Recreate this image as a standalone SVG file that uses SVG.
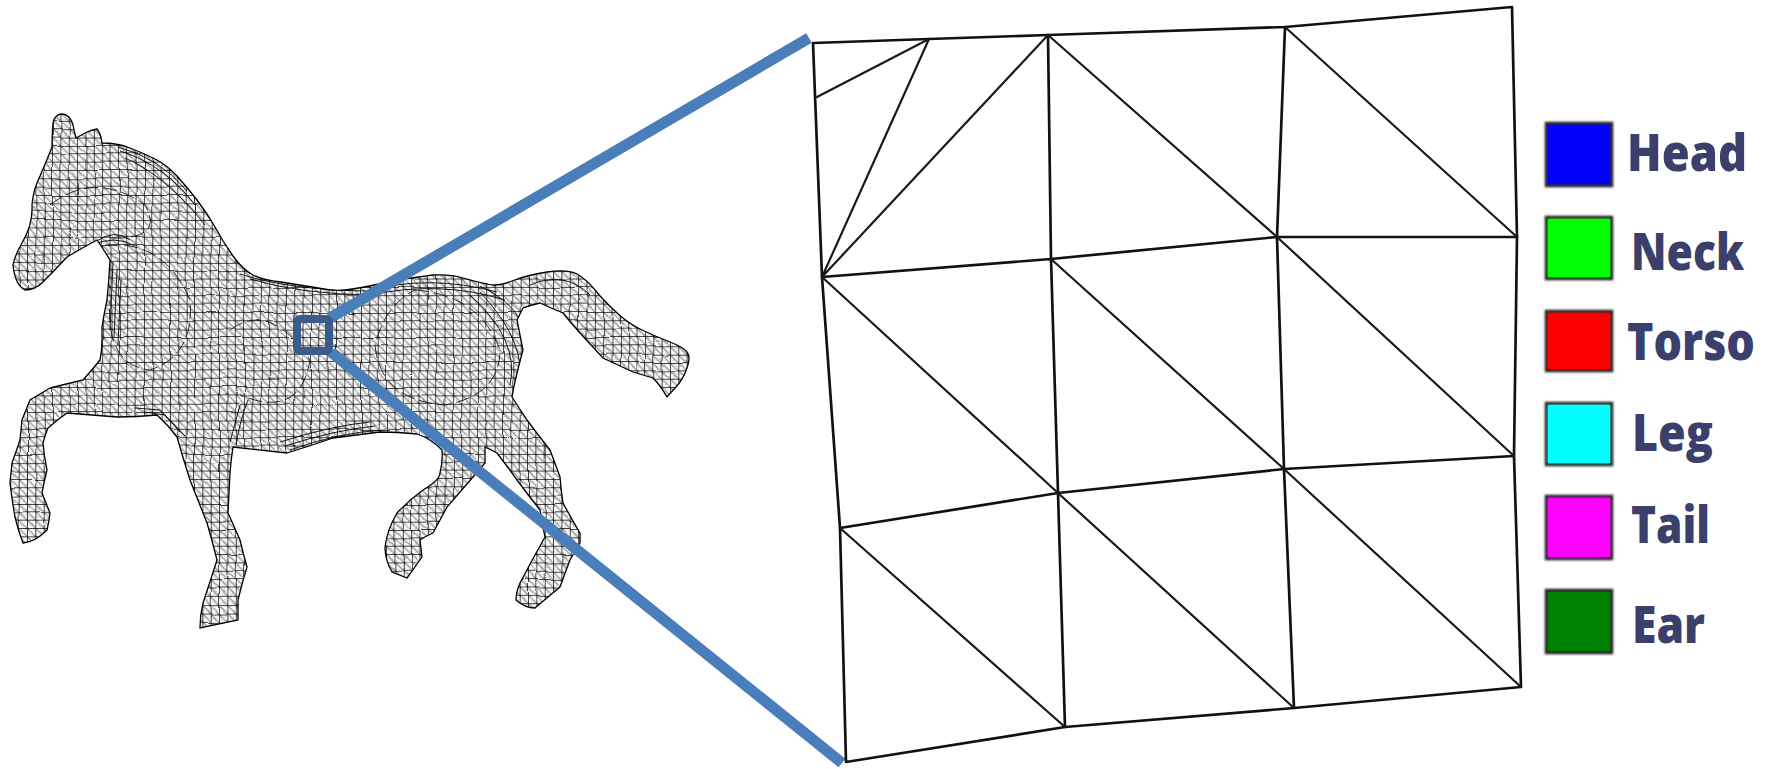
<svg xmlns="http://www.w3.org/2000/svg" width="1767" height="769" viewBox="0 0 1767 769">
<style>
.m{fill:none;stroke:#111;stroke-width:2.7;stroke-linecap:round;stroke-linejoin:round}
.d{fill:none;stroke:#1a1a1a;stroke-width:2.2;stroke-linecap:round}
.f{fill:none;stroke:#000;stroke-width:.9}
.c{fill:none;stroke:#000;stroke-width:.8;stroke-dasharray:14 5}
.b{stroke:#4a7ebb;stroke-width:11;fill:none}
.s{stroke:#222;stroke-width:3.5;filter:url(#blur)}
.t{font-family:"Open Sans","Liberation Sans",sans-serif;font-weight:800;font-size:51px;fill:#3a3f6b}
</style>
<defs>
<pattern id="grid" width="8.35" height="8.35" patternUnits="userSpaceOnUse" x="2" y="3">
<rect width="8.35" height="8.35" fill="#fff"/>
<path d="M0 0L8.35 8.35M-2 6.35L2 10.35M6.35-2L10.35 2" stroke="#aaa" stroke-width="1.5"/>
<path d="M0 0V8.35M0 0H8.35" stroke="#000" stroke-width="1.4"/>
</pattern>
<filter id="warp" x="0" y="0" width="100%" height="100%">
<feTurbulence type="fractalNoise" baseFrequency="0.02" numOctaves="2" seed="4"/>
<feDisplacementMap in="SourceGraphic" scale="5" xChannelSelector="R" yChannelSelector="G"/>
</filter>
<filter id="warp2" x="0" y="0" width="100%" height="100%">
<feTurbulence type="fractalNoise" baseFrequency="0.03" numOctaves="3" seed="11"/>
<feDisplacementMap in="SourceGraphic" scale="30" xChannelSelector="R" yChannelSelector="G"/>
</filter>
<filter id="blur" x="-10%" y="-10%" width="120%" height="120%"><feGaussianBlur stdDeviation=".8"/></filter>
<clipPath id="hc"><path id="ho" d="M62 114Q72 115 74 130L76 138L87 132Q92 130 97 129Q101 134 102 143Q117 143 130 148Q143 153 155 159Q167 165 177 176Q187 187 197 200Q207 213 215 227Q223 242 233 256Q243 270 253 275Q263 280 281 282Q300 285 318 288Q337 292 352 289Q367 287 392 281Q417 277 433 275Q450 274 463 278Q477 282 487 284Q497 287 512 281Q527 275 547 272Q567 269 577 274Q587 280 595 290Q603 300 615 311Q627 323 642 330Q657 337 670 342Q683 347 687 352Q691 357 687 368Q683 380 675 388L667 397Q660 385 653 378Q643 375 633 372Q618 365 603 358Q591 345 580 333Q571 323 563 313Q551 308 540 303Q531 305 523 308Q520 314 517 320Q520 335 523 350Q520 361 517 373Q514 385 512 397Q519 408 527 420Q538 435 550 450Q555 463 560 477Q561 490 563 503Q571 518 580 533Q580 538 580 543Q575 551 570 560Q565 573 560 587Q548 597 535 608Q525 608 516 600Q516 592 520 583Q532 560 545 537Q542 523 540 510Q528 495 517 480Q507 466 497 453Q491 450 485 447L485 463Q479 470 473 477Q460 492 447 507Q440 520 433 533Q426 536 420 540Q421 548 422 557Q415 567 407 578L392 572Q385 560 385 547Q387 530 397 513Q409 500 423 490Q440 480 440 473Q443 460 442 450Q430 438 417 434Q398 432 380 432Q356 435 333 438Q310 446 287 453Q260 450 233 447Q231 460 230 473Q229 493 228 513Q234 526 240 540Q243 553 247 567Q242 583 238 600Q238 610 238 620L200 628Q200 615 203 603Q210 582 217 560Q212 540 207 523Q198 500 190 480Q183 458 177 437Q168 425 157 415Q137 417 117 417Q92 415 67 413Q57 420 48 428Q45 435 43 443Q44 456 47 470Q44 482 42 493Q46 503 50 513Q49 522 47 530Q35 542 23 543Q18 530 15 517Q12 500 10 483Q11 473 12 463Q16 452 20 440Q21 430 22 420Q26 410 30 400Q40 394 50 388Q66 384 83 380Q92 370 100 360Q102 350 102 340Q102 333 102 327Q104 314 107 300Q109 280 110 260Q104 250 97 240Q82 248 67 257Q55 270 43 282Q35 290 25 290Q15 285 13 265Q15 255 22 243Q33 225 32 205Q33 190 40 176Q47 160 52 147Q52 135 53 123Q55 114 62 114Z"/></clipPath>
</defs>
<rect width="1767" height="769" fill="#fff"/>
<g id="horse">
<g clip-path="url(#hc)">
<rect x="0" y="100" width="700" height="540" fill="url(#grid)" filter="url(#warp)"/>
<rect x="0" y="100" width="700" height="540" fill="url(#grid)" filter="url(#warp2)" opacity=".16" style="mix-blend-mode:multiply"/>
<g class="f">
<path d="M118 147Q160 158 187 191M120 151Q165 165 195 205M125 158Q165 175 205 225"/>
<path d="M240 274Q290 290 367 291Q430 274 497 292M250 279Q300 294 370 295Q440 280 505 300M480 286Q510 300 520 320"/>
<path d="M113 262L110 330M117 270L114 338M121 280L118 345"/>
<path d="M95 242Q115 228 130 240M90 246Q115 234 135 246"/>
<path d="M385 430Q340 432 290 450M375 426Q335 430 285 446M370 422Q330 426 280 442"/>
<path d="M145 412L165 415L180 432M135 408L160 410L185 436"/>
<path d="M230 442Q236 420 240 405M236 445Q240 420 248 400"/>
<path d="M470 295Q520 340 510 385M480 292Q530 345 518 390"/>
<path d="M530 285Q565 270 590 295"/>
</g>
<g class="c">
<path d="M415 290Q480 295 500 350Q500 395 445 405Q380 400 375 345Q385 305 415 290Z"/>
<path d="M105 245Q165 240 190 300Q195 355 150 370Q105 365 110 300"/>
<path d="M50 205Q95 170 145 205Q165 240 110 238"/>
<path d="M230 330Q270 300 310 360Q300 420 240 395"/>
</g>
</g>
<use href="#ho" fill="none" stroke="#000" stroke-width="1.3"/>
</g>
<g id="connectors">
<path class="b" d="M330 318L809 38M331 352L842 763"/>
</g>
<g id="zoom-box"><rect x="297" y="319" width="32" height="32" rx="3" fill="none" stroke="#385d8a" stroke-width="8"/></g>
<g id="mesh">
<path class="m" d="M813 43L929 39L1048 35L1285 27L1512 7L1517 237L1514 456L1521 687L1294 708L1065 727L846 762L840 528L822 277L813 43Z"/>
<path class="m" d="M822 277L1051 259L1277 237L1517 237M840 528L1058 493L1284 469L1514 456M1048 35L1051 259L1058 493L1065 727M1285 27L1277 237L1284 469L1294 708"/>
<path class="d" d="M817 97L929 39M929 39L822 277M1048 35L822 277M1048 35L1277 237M1285 27L1517 237M822 277L1058 493M1051 259L1284 469M1277 237L1514 456M840 528L1065 727M1058 493L1294 708M1284 469L1521 687"/>
</g>
<g id="legend-head"><rect class="s" x="1546.5" y="123.5" width="65" height="62" fill="#00f"/><rect x="1548" y="125" width="62" height="59" fill="#00f"/><text class="t" x="1627" y="171" textLength="120" lengthAdjust="spacingAndGlyphs">Head</text></g>
<g id="legend-neck"><rect class="s" x="1546.5" y="217.5" width="65" height="61" fill="#0f0"/><rect x="1548" y="219" width="62" height="58" fill="#0f0"/><text class="t" x="1631" y="270" textLength="113" lengthAdjust="spacingAndGlyphs">Neck</text></g>
<g id="legend-torso"><rect class="s" x="1546.5" y="311.5" width="65" height="59" fill="#f00"/><rect x="1548" y="313" width="62" height="56" fill="#f00"/><text class="t" transform="translate(1627 360) scale(.88 1)">Torso</text></g>
<g id="legend-leg"><rect class="s" x="1546.5" y="403.5" width="65" height="61" fill="#0ff"/><rect x="1548" y="405" width="62" height="58" fill="#0ff"/><text class="t" x="1632" y="451" textLength="81" lengthAdjust="spacingAndGlyphs">Leg</text></g>
<g id="legend-tail"><rect class="s" x="1546.5" y="496.5" width="65" height="62" fill="#f0f"/><rect x="1548" y="498" width="62" height="59" fill="#f0f"/><text class="t" x="1631" y="543" textLength="79" lengthAdjust="spacingAndGlyphs">Tail</text></g>
<g id="legend-ear"><rect class="s" x="1546.5" y="590.5" width="65" height="62" fill="#008000"/><rect x="1548" y="592" width="62" height="59" fill="#008000"/><text class="t" x="1632" y="643" textLength="73" lengthAdjust="spacingAndGlyphs">Ear</text></g>
</svg>
